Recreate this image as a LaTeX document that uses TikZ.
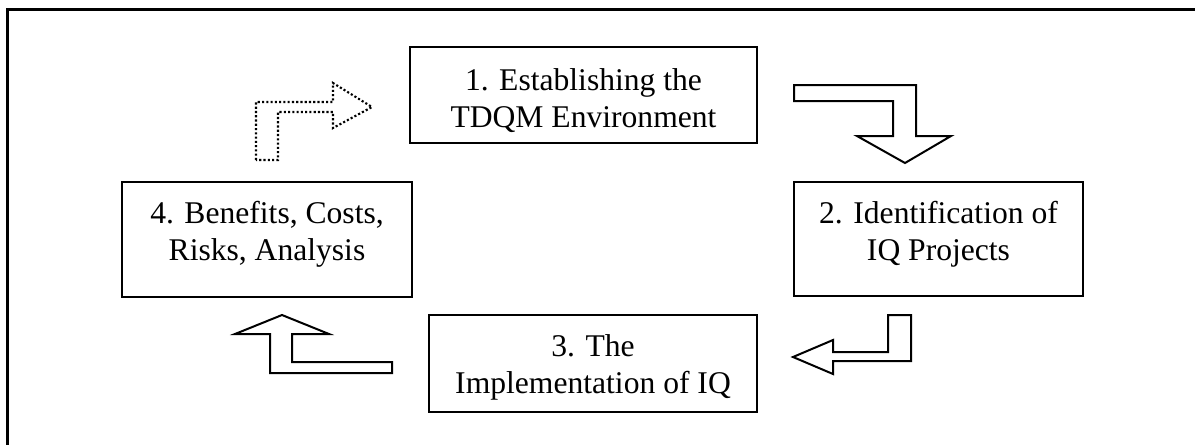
\documentclass[tikz,border=0pt]{standalone}
\usepackage{fontspec}
\setmainfont{Liberation Serif}
\begin{document}
\begin{tikzpicture}[x=0.75pt,y=-0.75pt,
  box/.style={draw=black,line width=1.5pt,rectangle,inner sep=0pt,outer sep=0pt,fill=white},
  txt/.style={anchor=base,inner sep=0pt,font=\fontsize{23.7}{27.75}\selectfont},
  blockarrow/.style={draw=black,line width=1.5pt,line join=miter,fill=white},
  dotarrow/.style={draw=black,line width=1.6pt,dash pattern=on 1.6pt off 1.6pt,line join=miter,fill=white}]
\useasboundingbox (0,0) rectangle (1195,444);
\clip (0,0) rectangle (1195,444);
\fill[white] (0,0) rectangle (1195,444);
% outer frame
\draw[line width=2pt] (1200,9.5) -- (7.5,9.5) -- (7.5,450);
% boxes
\node[box,minimum width=260.25pt,minimum height=72pt] (b1) at (583.5,95) {};
\node[box,minimum width=216.75pt,minimum height=85.5pt] (b2) at (938.5,239) {};
\node[box,minimum width=246pt,minimum height=72.75pt] (b3) at (593,363.5) {};
\node[box,minimum width=217.5pt,minimum height=86.25pt] (b4) at (267,239.5) {};
% texts
\node[txt] (t1a) at (583.5,90) {1. Establishing the};
\node[txt] (t1b) at (583.5,127) {TDQM Environment};
\node[txt] (t2a) at (938.5,223) {2. Identification of};
\node[txt] (t2b) at (938.5,260) {IQ Projects};
\node[txt] (t3a) at (593,356) {3. The};
\node[txt] (t3b) at (593,393) {Implementation of IQ};
\node[txt] (t4a) at (267,223) {4. Benefits, Costs,};
\node[txt] (t4b) at (267,260) {Risks, Analysis};
% block arrows
\draw[dotarrow] (256,160) -- (256,102) -- (333,102) -- (333,83) -- (372,107) -- (333,128) -- (333,112) -- (278,112) -- (278,160) -- cycle;
\draw[blockarrow] (794,85) -- (916,85) -- (916,136) -- (951,136) -- (905,163) -- (857,136) -- (893,136) -- (893,101) -- (794,101) -- cycle;
\draw[blockarrow] (911,315) -- (911,361) -- (833,361) -- (833,374) -- (793,357) -- (833,340) -- (833,352) -- (888,352) -- (888,315) -- cycle;
\draw[blockarrow] (392,373) -- (270,373) -- (270,334) -- (235,334) -- (282,315) -- (329,334) -- (292,334) -- (292,362) -- (392,362) -- cycle;
\end{tikzpicture}
\end{document}
